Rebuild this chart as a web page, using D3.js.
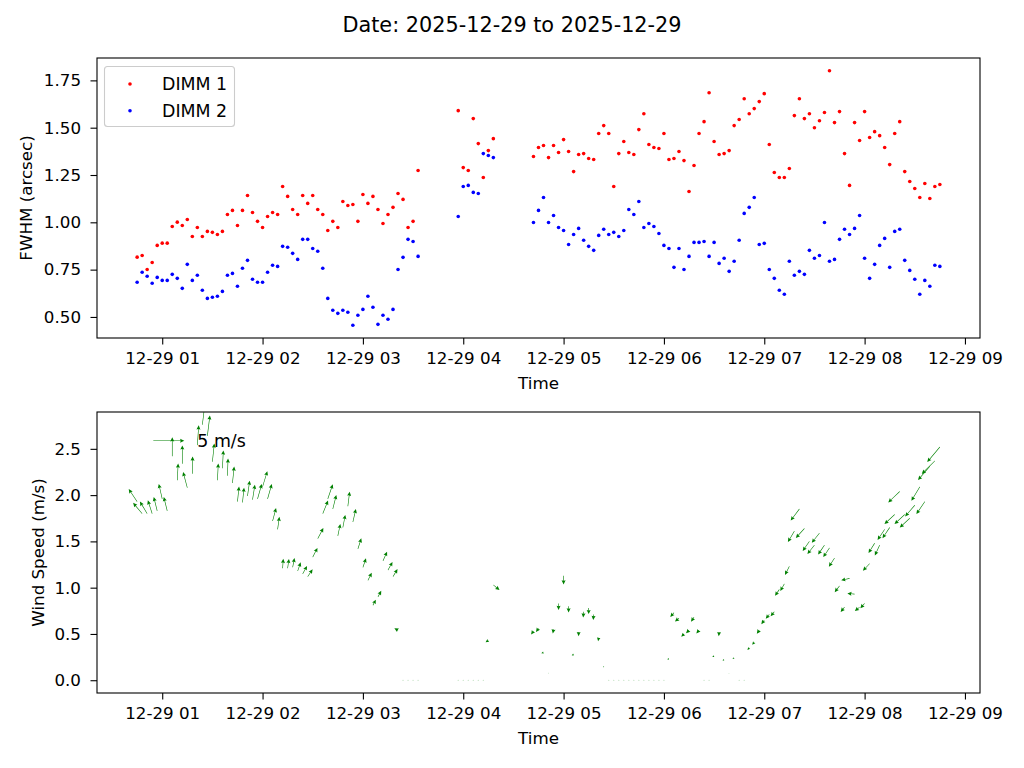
<!DOCTYPE html>
<html>
<head>
<meta charset="utf-8">
<script src="https://cdn.jsdelivr.net/npm/d3@7"></script>
<style>
  body { margin: 0; background: #fff; }
  text { font-family: "DejaVu Sans", sans-serif; }
</style>
</head>
<body>
<svg id="chart"></svg>
<script>
// sample times (HH:MM on 2025-12-29), shared by both panels
var times = [
  "00:45","00:48","00:51","00:54","00:57",
  "01:00","01:03","01:06","01:09","01:12","01:15","01:18","01:21","01:24","01:27",
  "01:30","01:33","01:36","01:39","01:42","01:45","01:48","01:51","01:54","01:57",
  "02:00","02:03","02:06","02:09","02:12","02:15","02:18","02:21","02:24","02:27",
  "02:30","02:33","02:36","02:39","02:42","02:45","02:48","02:51","02:54","02:57",
  "03:00","03:03","03:06","03:09","03:12","03:15","03:18","03:21","03:24","03:27","03:30","03:33",
  "03:57","04:00","04:03","04:06","04:09","04:12","04:15","04:18",
  "04:42","04:45","04:48","04:51","04:54","04:57",
  "05:00","05:03","05:06","05:09","05:12","05:15","05:18","05:21","05:24","05:27",
  "05:30","05:33","05:36","05:39","05:42","05:45","05:48","05:51","05:54","05:57",
  "06:00","06:03","06:06","06:09","06:12","06:15","06:18","06:21","06:24","06:27",
  "06:30","06:33","06:36","06:39","06:42","06:45","06:48","06:51","06:54","06:57",
  "07:00","07:03","07:06","07:09","07:12","07:15","07:18","07:21","07:24","07:27",
  "07:30","07:33","07:36","07:39","07:42","07:45","07:48","07:51","07:54","07:57",
  "08:00","08:03","08:06","08:09","08:12","08:15","08:18","08:21","08:24","08:27",
  "08:30","08:33","08:36","08:39","08:42","08:45"
];

// FWHM (arcsec)
var dimm1 = [
  0.816,0.825,0.751,0.788,0.878,0.890,0.890,0.978,1.001,0.983,
  1.015,0.925,0.973,0.925,0.952,0.947,0.936,0.952,1.041,1.063,
  0.983,1.063,1.142,1.052,1.005,0.973,1.031,1.052,1.041,1.189,
  1.137,1.068,1.041,1.142,1.100,1.142,1.068,1.041,0.957,
  1.005,0.973,1.110,1.089,1.094,1.005,1.147,1.100,1.137,1.068,
  0.994,1.041,1.079,1.152,1.121,0.973,1.005,1.274,
  1.590,1.289,1.274,1.548,1.416,1.237,1.379,1.442,
  1.348,1.395,1.406,1.342,
  1.406,1.369,1.437,1.374,1.268,1.358,1.363,1.337,1.332,1.469,
  1.511,1.469,1.189,1.363,1.427,1.369,1.358,1.490,1.574,1.411,
  1.395,1.390,1.469,1.332,1.337,1.374,1.326,1.163,1.300,1.469,
  1.532,1.685,1.427,1.358,1.363,1.379,1.511,1.543,1.653,1.574,
  1.601,1.638,1.680,1.411,
  1.263,1.237,1.237,1.284,1.564,1.653,1.548,1.574,1.500,1.537,
  1.580,1.801,1.527,1.585,1.363,1.195,1.527,1.432,1.585,1.448,
  1.479,1.458,1.395,1.305,1.469,1.532,1.268,1.216,1.179,1.131,
  1.205,1.126,1.189,1.200
];
var dimm2 = [
  0.683,0.736,0.715,0.678,0.709,0.693,0.693,0.725,0.704,0.651,
  0.778,0.693,0.720,0.641,0.598,0.604,0.609,0.635,0.720,0.730,
  0.662,0.757,0.799,0.699,0.683,0.683,0.736,0.773,0.767,0.873,
  0.868,0.836,0.804,0.910,0.910,0.862,0.847,0.757,0.598,
  0.535,0.519,0.535,0.525,0.456,0.509,0.540,0.609,0.551,0.461,
  0.509,0.488,0.540,0.751,0.815,0.910,0.899,0.820,
  1.031,1.189,1.195,1.158,1.152,1.363,1.353,1.342,
  0.999,1.063,1.131,0.999,
  1.036,0.973,0.957,0.883,0.936,0.968,0.905,0.873,0.852,0.931,
  0.963,0.936,0.947,0.925,0.957,1.068,1.041,1.110,0.973,0.994,
  0.978,0.941,0.878,0.862,0.762,0.862,0.751,0.820,0.894,0.894,
  0.899,0.820,0.894,0.783,0.810,0.741,0.794,0.905,1.047,1.079,
  1.131,0.883,0.889,0.751,
  0.704,0.641,0.620,0.794,0.720,0.741,0.725,0.852,0.810,0.825,
  0.999,0.794,0.804,0.910,0.963,0.936,0.968,1.036,0.810,0.704,
  0.778,0.878,0.915,0.762,0.952,0.963,0.799,0.746,0.699,0.620,
  0.693,0.662,0.773,0.767
];

// wind speed (m/s)
var windSpeed = [
  1.93,1.80,1.80,1.80,1.83,1.96,1.83,2.42,2.16,2.34,
  2.08,2.23,2.54,2.76,2.64,2.36,2.16,2.29,2.21,2.13,
  1.93,1.92,1.99,1.95,1.96,2.09,1.96,1.72,1.63,1.21,
  1.21,1.22,1.18,1.15,1.12,1.33,1.53,1.80,1.96,1.85,
  1.56,1.65,1.88,1.71,1.42,1.22,1.08,0.81,0.90,1.29,
  1.19,1.12,0.54,0,0,0,0,
  0,0,0,0,0,0,0.43,1.03,
  0.53,0.56,0.30,0.08,0.55,0.83,1.13,0.80,0.28,0.52,
  0.74,0.78,0.71,0.46,0.15,0,0,0,0,0,
  0,0,0,0,0,0,0,0.23,0.73,0.67,
  0.50,0.54,0.68,0.54,0,0,0.26,0.52,0.22,0.07,
  0.24,0,0,0.35,0.41,0.54,0.65,0.71,0.74,0.98,
  1.04,1.23,1.61,1.85,1.64,1.50,1.46,1.59,1.46,1.43,
  1.32,1.02,0.79,1.10,0.93,0.79,0.83,1.26,1.48,1.46,
  1.63,1.65,1.79,2.04,1.79,1.75,1.89,2.09,1.93,2.31,
  2.37,2.52
];
// direction the wind blows toward, degrees clockwise from north
var windDir = [
  326,320,329,342,346,347,346,0,3,0,
  345,1,4,7,7,6,3,3,2,6,
  6,6,8,9,16,17,16,15,8,4,
  8,11,19,29,34,27,28,22,19,14,
  12,11,7,13,18,19,27,27,28,24,
  29,31,300,0,0,0,0,
  0,0,0,0,0,0,235,130,
  215,215,250,200,190,180,180,180,240,180,
  185,180,185,190,200,0,0,0,0,0,
  0,0,0,0,0,0,0,260,220,230,
  225,225,215,220,0,0,250,185,260,240,
  250,0,0,220,220,215,215,220,220,214,
  210,207,211,217,222,215,218,218,214,214,
  213,217,219,257,276,230,221,223,212,205,
  214,214,227,226,227,227,221,211,214,221,
  225,220
];

var hourTicks = ["01:00","02:00","03:00","04:00","05:00","06:00","07:00","08:00","09:00"];
var fwhmTicks = [0.50, 0.75, 1.00, 1.25, 1.50, 1.75];
var windTicks = [0.0, 0.5, 1.0, 1.5, 2.0, 2.5];
var seriesNames = ["DIMM 1", "DIMM 2"];
var seriesColors = ["#ff0000", "#0000ff"];
var keySpeed = 5;

var width = 1024, height = 768;
var left = 97, right = 980;
var top1 = 58, bottom1 = 338;
var top2 = 412, bottom2 = 693;
var tickFont = "16.7px";
var green = "#008000";

var parseTime = d3.timeParse("%Y-%m-%d %H:%M");
function toDate(s){ return parseTime("2025-12-29 " + s); }
var t = times.map(toDate);

function padExtent(ext){
  var p = (ext[1] - ext[0]) * 0.05;
  return [ext[0] - p, ext[1] + p];
}

var tExt = padExtent(d3.extent(t, function(d){ return +d; }));
var xScale = d3.scaleTime()
  .domain([new Date(tExt[0]), new Date(tExt[1])])
  .range([left, right]);

var yTop = d3.scaleLinear()
  .domain(padExtent(d3.extent(dimm1.concat(dimm2))))
  .range([bottom1, top1]);

var yBot = d3.scaleLinear()
  .domain(padExtent(d3.extent(windSpeed)))
  .range([bottom2, top2]);

var arrowLen = d3.scaleLinear().domain([0, 1]).range([0, 7.8]);

var svg = d3.select('#chart')
  .attr('width', width)
  .attr('height', height);

svg.append('rect').attr('width', width).attr('height', height).attr('fill', '#fff');

// title
svg.append('text')
  .attr('x', 512).attr('y', 31.5)
  .style('text-anchor', 'middle')
  .style('font-size', '20.8px')
  .text('Date: 2025-12-29 to 2025-12-29');

function styleAxis(g){
  g.select('.domain').remove();
  g.selectAll('.tick line').attr('stroke', '#000').attr('stroke-width', 1.1);
  g.selectAll('.tick text')
    .attr('fill', '#000')
    .style('font-family', '"DejaVu Sans", sans-serif')
    .style('font-size', tickFont);
}

function drawXAxis(bottom){
  svg.append('g')
    .attr('transform', `translate(0, ${bottom})`)
    .call(d3.axisBottom(xScale)
      .tickValues(hourTicks.map(toDate))
      .tickSize(6.5)
      .tickPadding(8)
      .tickFormat(d3.timeFormat('%m-%d %H')))
    .call(styleAxis);

  svg.append('text')
    .attr('x', (left + right) / 2)
    .attr('y', bottom + 51)
    .style('text-anchor', 'middle')
    .style('font-size', tickFont)
    .text('Time');
}

function drawYAxis(scale, ticks, fmt, label, labelX, top, bottom){
  svg.append('g')
    .attr('transform', `translate(${left}, 0)`)
    .call(d3.axisLeft(scale)
      .tickValues(ticks)
      .tickSize(6.5)
      .tickPadding(9.5)
      .tickFormat(d3.format(fmt)))
    .call(styleAxis);

  svg.append('text')
    .attr('transform', `translate(${labelX}, ${(top + bottom) / 2}) rotate(-90)`)
    .style('text-anchor', 'middle')
    .style('font-size', tickFont)
    .text(label);
}

function drawFrame(top, bottom){
  svg.append('rect')
    .attr('x', left).attr('y', top)
    .attr('width', right - left).attr('height', bottom - top)
    .attr('fill', 'none')
    .attr('stroke', '#000')
    .attr('stroke-width', 1.1);
}

// ---------- top panel: FWHM scatter ----------
[dimm1, dimm2].forEach(function(series, k){
  svg.append('g')
    .selectAll('circle')
    .data(series)
    .enter()
    .append('circle')
      .attr('cx', function(d, i){ return xScale(t[i]); })
      .attr('cy', function(d){ return yTop(d); })
      .attr('r', 1.8)
      .attr('fill', seriesColors[k]);
});

drawXAxis(bottom1);
drawYAxis(yTop, fwhmTicks, '.2f', 'FWHM (arcsec)', 32, top1, bottom1);
drawFrame(top1, bottom1);

// legend
var legend = svg.append('g');
legend.append('rect')
  .attr('x', 104.5).attr('y', 66.5)
  .attr('width', 130).attr('height', 60)
  .attr('rx', 3)
  .attr('fill', '#fff').attr('fill-opacity', 0.8)
  .attr('stroke', '#cccccc').attr('stroke-width', 1.1);
seriesNames.forEach(function(name, k){
  legend.append('circle')
    .attr('cx', 130).attr('cy', 84 + k * 26.7)
    .attr('r', 1.8)
    .attr('fill', seriesColors[k]);
  legend.append('text')
    .attr('x', 162).attr('y', 90 + k * 26.7)
    .style('font-size', '17.4px')
    .text(name);
});

// ---------- bottom panel: wind quiver ----------
var shaftW = 0.6, headW = 4.0, headL = 4.2, headAxL = 3.7;
function arrowPath(len){
  var f = len < headL ? len / headL : 1;
  var w = shaftW * f / 2, hw = headW * f / 2, hl = headL * f, ha = headAxL * f;
  return 'M0,' + (-w) +
    'L' + (len - ha) + ',' + (-w) +
    'L' + (len - hl) + ',' + (-hw) +
    'L' + len + ',0' +
    'L' + (len - hl) + ',' + hw +
    'L' + (len - ha) + ',' + w +
    'L0,' + w + 'Z';
}

svg.append('clipPath').attr('id', 'clip2')
  .append('rect')
  .attr('x', left).attr('y', top2)
  .attr('width', right - left).attr('height', bottom2 - top2);

var quiver = svg.append('g').attr('clip-path', 'url(#clip2)');

var windData = windSpeed.map(function(s, i){
  return { time: t[i], speed: s, dir: windDir[i] };
});

quiver.selectAll('circle.calm')
  .data(windData.filter(function(d){ return d.speed === 0; }))
  .enter()
  .append('circle')
    .attr('class', 'calm')
    .attr('cx', function(d){ return xScale(d.time); })
    .attr('cy', function(d){ return yBot(d.speed); })
    .attr('r', 0.6)
    .attr('fill', green)
    .attr('fill-opacity', 0.3);

quiver.selectAll('path.arrow')
  .data(windData.filter(function(d){ return d.speed > 0; }))
  .enter()
  .append('path')
    .attr('class', 'arrow')
    .attr('transform', function(d){
      return `translate(${xScale(d.time)}, ${yBot(d.speed)}) rotate(${d.dir - 90})`;
    })
    .attr('d', function(d){ return arrowPath(arrowLen(d.speed)); })
    .attr('fill', green);

// quiver key
svg.append('path')
  .attr('transform', 'translate(153.3, 440.7)')
  .attr('d', arrowPath(31))
  .attr('fill', green);
svg.append('text')
  .attr('x', 197.3).attr('y', 447)
  .style('font-size', '17.4px')
  .text(keySpeed + ' m/s');

drawXAxis(bottom2);
drawYAxis(yBot, windTicks, '.1f', 'Wind Speed (m/s)', 44, top2, bottom2);
drawFrame(top2, bottom2);
</script>
</body>
</html>
